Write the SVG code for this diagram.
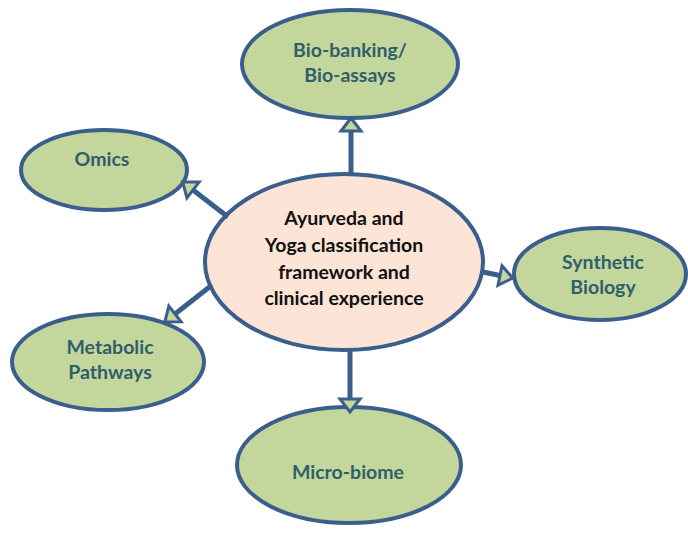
<svg xmlns="http://www.w3.org/2000/svg" width="688" height="535" viewBox="0 0 688 535">
<style>
.leaf{fill:#c3d69b;stroke:#3a5f8c;stroke-width:4}
.core{fill:#fce4d6;stroke:#3a5f8c;stroke-width:4}
.lt{font-family:Lato,"Liberation Sans",sans-serif;font-weight:bold;font-size:19.5px;fill:#2f5e6c;text-anchor:middle}
.ct{font-family:Lato,"Liberation Sans",sans-serif;font-weight:bold;font-size:19.5px;fill:#111;text-anchor:middle}
.con{stroke:#3a5f8c;stroke-width:5;fill:none;marker-end:url(#ah)}
</style>
<defs>
<marker id="ah" markerUnits="userSpaceOnUse" markerWidth="16" markerHeight="22" refX="0" refY="10" orient="auto" overflow="visible">
<path d="M0,0 L13,10 L0,20 Z" fill="#c3d69b" stroke="#3a5f8c" stroke-width="3" stroke-linejoin="miter"/>
</marker>
</defs>
<rect width="688" height="535" fill="#fff"/>
<g id="center">
<ellipse class="core" cx="344" cy="262" rx="139" ry="88"/>
<text class="ct" x="344" y="225">Ayurveda and</text>
<text class="ct" x="344" y="252">Yoga classification</text>
<text class="ct" x="344" y="279">framework and</text>
<text class="ct" x="344" y="305">clinical experience</text>
</g>
<g id="biobanking">
<ellipse class="leaf" cx="350" cy="64" rx="108" ry="54"/>
<text class="lt" x="350" y="57">Bio-banking/</text>
<text class="lt" x="350" y="82">Bio-assays</text>
</g>
<g id="omics">
<ellipse class="leaf" cx="104" cy="170" rx="83" ry="40"/>
<text class="lt" x="102" y="166">Omics</text>
</g>
<g id="metabolic">
<ellipse class="leaf" cx="108" cy="362" rx="96" ry="48"/>
<text class="lt" x="110" y="354">Metabolic</text>
<text class="lt" x="110" y="379">Pathways</text>
</g>
<g id="synthetic">
<ellipse class="leaf" cx="600" cy="274" rx="86" ry="46"/>
<text class="lt" x="603" y="269">Synthetic</text>
<text class="lt" x="603" y="294">Biology</text>
</g>
<g id="microbiome">
<ellipse class="leaf" cx="349" cy="465" rx="112" ry="58"/>
<text class="lt" x="348" y="479">Micro-biome</text>
</g>
<g id="connectors">
<line class="con" x1="351" y1="174" x2="351" y2="131"/>
<line class="con" x1="228" y1="217" x2="193" y2="190"/>
<line class="con" x1="212" y1="285" x2="175" y2="314"/>
<line class="con" x1="483" y1="272" x2="500" y2="275.5"/>
<line class="con" x1="350" y1="351" x2="350" y2="399"/>
</g>
</svg>
